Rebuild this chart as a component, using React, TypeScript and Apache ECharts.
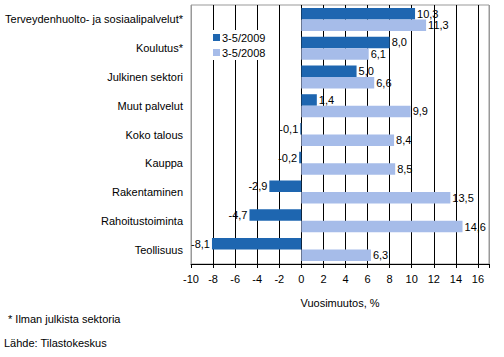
import React, { useEffect, useRef } from "react";
import * as echarts from "echarts";

const categories = [
  "Terveydenhuolto- ja sosiaalipalvelut*",
  "Koulutus*",
  "Julkinen sektori",
  "Muut palvelut",
  "Koko talous",
  "Kauppa",
  "Rakentaminen",
  "Rahoitustoiminta",
  "Teollisuus",
];
const values2009 = [10.3, 8.0, 5.0, 1.4, -0.1, -0.2, -2.9, -4.7, -8.1];
const values2008 = [11.3, 6.1, 6.6, 9.9, 8.4, 8.5, 13.5, 14.6, 6.3];
const seriesNames = ["3-5/2009", "3-5/2008"];
const xMin = -10;
const xMax = 17;
const xInterval = 2;

const FONT = "'Liberation Sans', Arial, sans-serif";
const fmt = (v: number) => v.toFixed(1).replace(".", ",");

const makeData = (arr: number[]) =>
  arr.map((v) => ({
    value: v,
    label: { position: v < 0 ? "left" : "right" },
  }));

export default function App() {
  const ref = useRef<HTMLDivElement>(null);
  useEffect(() => {
    if (!ref.current) return;
    const chart = echarts.init(ref.current, undefined, { renderer: "svg" });
    const splitColors: string[] = [];
    for (let v = xMin; v <= xMax; v += xInterval) splitColors.push(v === xMin ? "#999" : "#000");
    splitColors.push("#999");
    const labelCommon = {
      show: true,
      color: "#000",
      fontFamily: FONT,
      fontSize: 11,
      distance: 2,
      formatter: (p: any) => fmt(p.value),
    };
    chart.setOption({
      animation: false,
      textStyle: { fontFamily: FONT },
      grid: {
        left: 191,
        right: 15,
        top: 5,
        bottom: 93,
        show: true,
        borderColor: "#999",
        borderWidth: 1,
        backgroundColor: "transparent",
      },
      legend: {
        orient: "vertical",
        left: 211,
        top: 30,
        itemWidth: 7,
        itemHeight: 7,
        itemGap: 4,
        padding: [2, 3, 2, 2],
        backgroundColor: "#fff",
        icon: "rect",
        textStyle: { fontFamily: FONT, fontSize: 11, color: "#000", padding: [0, 0, 0, -3] },
        data: seriesNames,
      },
      xAxis: {
        type: "value",
        min: xMin,
        max: xMax,
        interval: xInterval,
        name: "Vuosimuutos, %",
        nameLocation: "middle",
        nameGap: 33,
        nameTextStyle: { fontFamily: FONT, fontSize: 11, color: "#000" },
        axisLine: { show: true, lineStyle: { color: "#000", width: 1 } },
        axisTick: { show: true, length: 4, lineStyle: { color: "#000" } },
        axisLabel: {
          fontFamily: FONT,
          fontSize: 11,
          color: "#000",
          margin: 9,
          formatter: (v: number) => (v === xMax ? "" : String(v)),
        },
        splitLine: { show: true, lineStyle: { color: splitColors, width: 1 } },
      },
      yAxis: {
        type: "category",
        inverse: true,
        data: categories,
        axisLine: { show: false },
        axisTick: { show: false },
        axisLabel: { fontFamily: FONT, fontSize: 11, color: "#000", margin: 8 },
      },
      series: [
        {
          name: seriesNames[0],
          type: "bar",
          data: makeData(values2009),
          barWidth: 11.5,
          barGap: "0%",
          itemStyle: { color: "#1E66B0" },
          label: labelCommon,
        },
        {
          name: seriesNames[1],
          type: "bar",
          data: makeData(values2008),
          barWidth: 11.5,
          barGap: "0%",
          itemStyle: { color: "#A6BCE9" },
          label: labelCommon,
        },
      ],
      graphic: [
        {
          type: "text",
          left: 8,
          top: 313,
          style: { text: "* Ilman julkista sektoria", fontFamily: FONT, fontSize: 11, fill: "#000" },
        },
        {
          type: "text",
          left: 4,
          top: 337,
          style: { text: "Lähde: Tilastokeskus", fontFamily: FONT, fontSize: 11, fill: "#000" },
        },
      ],
    });
    return () => chart.dispose();
  }, []);
  return (
    <div
      ref={ref}
      style={{ position: "fixed", left: 0, top: 0, width: 504, height: 357, background: "#fff" }}
    />
  );
}
